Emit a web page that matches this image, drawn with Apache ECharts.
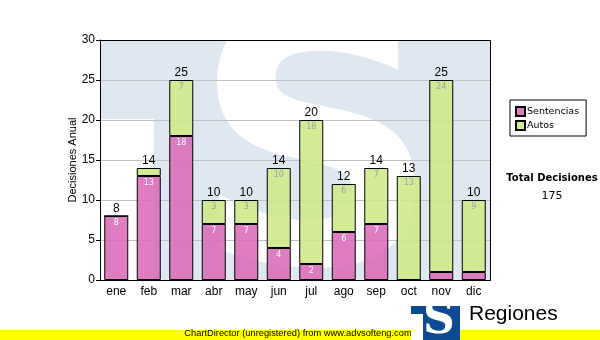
<!DOCTYPE html>
<html>
<head>
<meta charset="utf-8">
<script src="https://cdn.jsdelivr.net/npm/echarts@6/dist/echarts.min.js"></script>
<style>
  html, body { margin: 0; padding: 0; background: #fff; }
  #chart { width: 600px; height: 340px; }
</style>
</head>
<body>
<div id="chart"></div>
<script>
// Monthly decisions, split into judgments (Sentencias) and orders (Autos)
const months = ['ene', 'feb', 'mar', 'abr', 'may', 'jun', 'jul', 'ago', 'sep', 'oct', 'nov', 'dic'];
const sentencias = [8, 13, 18, 7, 7, 4, 2, 6, 7, 0, 1, 1];
const autos = [0, 1, 7, 3, 3, 10, 18, 6, 7, 13, 24, 9];
const yTicks = { min: 0, max: 30, interval: 5 };

const totals = months.map((m, i) => sentencias[i] + autos[i]);
const grandTotal = totals.reduce((a, b) => a + b, 0);

const FONT = '"Liberation Sans", Arial, sans-serif';
const SMALL = '"DejaVu Sans", Verdana, sans-serif';

// plot rectangle in pixels
const PLOT = { left: 100, top: 40, right: 490, bottom: 280 };

// segment labels are hidden on slivers too thin to hold them
const innerLabel = (color) => ({
  show: true,
  position: 'insideTop',
  distance: 3,
  fontFamily: SMALL,
  fontSize: 8,
  color: color,
  formatter: (p) => (p.value >= 2 ? String(p.value) : '')
});

const chart = echarts.init(document.getElementById('chart'), null, { renderer: 'canvas' });

chart.setOption({
  animation: false,
  backgroundColor: '#ffffff',
  grid: { left: PLOT.left, top: PLOT.top, right: 600 - PLOT.right, bottom: 340 - PLOT.bottom },
  legend: {
    orient: 'vertical',
    left: 510,
    top: 100,
    padding: [6, 7, 5, 5],
    itemGap: 3,
    itemWidth: 9,
    itemHeight: 9,
    borderColor: '#000',
    borderWidth: 1,
    icon: 'rect',
    textStyle: { fontFamily: SMALL, fontSize: 9.5, color: '#000', padding: [0, 0, 0, -3] },
    data: ['Sentencias', 'Autos']
  },
  xAxis: {
    type: 'category',
    data: months,
    axisLine: { lineStyle: { color: '#000', width: 1 } },
    axisTick: { alignWithLabel: true, length: 4, lineStyle: { color: '#000' } },
    axisLabel: { fontFamily: FONT, fontSize: 12, color: '#000', margin: 6 }
  },
  yAxis: {
    type: 'value',
    min: yTicks.min,
    max: yTicks.max,
    interval: yTicks.interval,
    name: 'Decisiones Anual',
    nameLocation: 'middle',
    nameGap: 22,
    nameMoveOverlap: false,
    nameTextStyle: { fontFamily: FONT, fontSize: 11, color: '#000' },
    axisLine: { show: true, lineStyle: { color: '#000', width: 1 } },
    axisTick: { show: true, length: 4, lineStyle: { color: '#000' } },
    axisLabel: { fontFamily: FONT, fontSize: 12, color: '#000', margin: 5 },
    splitLine: { lineStyle: { color: '#c0c0c0', width: 1 } }
  },
  series: [
    {
      name: 'Sentencias',
      type: 'bar',
      stack: 'dec',
      barWidth: 24,
      data: sentencias,
      itemStyle: { color: 'rgba(219,106,186,0.88)', borderColor: '#000', borderWidth: 1 },
      label: innerLabel('#ffffff')
    },
    {
      name: 'Autos',
      type: 'bar',
      stack: 'dec',
      barWidth: 24,
      data: autos,
      itemStyle: { color: 'rgba(206,232,134,0.88)', borderColor: '#000', borderWidth: 1 },
      label: innerLabel('#a0a0a0')
    },
    {
      // zero-height cap carrying the monthly total above each stack
      name: 'Total',
      type: 'bar',
      stack: 'dec',
      barWidth: 24,
      data: totals.map(() => 0),
      itemStyle: { color: 'transparent', borderWidth: 0 },
      label: {
        show: true,
        position: 'top',
        distance: 1,
        fontFamily: FONT,
        fontSize: 12,
        color: '#000',
        formatter: (p) => String(totals[p.dataIndex])
      }
    }
  ],
  graphic: [
    // faint logo watermark behind the plot
    { type: 'rect', z: -10, shape: { x: PLOT.left, y: PLOT.top, width: PLOT.right - PLOT.left, height: 79 }, style: { fill: '#dfe8f1' } },
    { type: 'rect', z: -10, shape: { x: 154, y: 118, width: PLOT.right - 154, height: PLOT.bottom - 118 }, style: { fill: '#dfe8f1' } },
    { type: 'text', z: -9, x: 316, y: 172, scaleX: 0.98, style: { text: 'S', font: 'bold 350px "DejaVu Sans", sans-serif', fill: '#ffffff', textAlign: 'center', textVerticalAlign: 'middle' } },
    // plot frame
    { type: 'rect', z: 50, shape: { x: PLOT.left + 0.5, y: PLOT.top + 0.5, width: PLOT.right - PLOT.left, height: PLOT.bottom - PLOT.top }, style: { fill: null, stroke: '#000', lineWidth: 1 } },
    // grand total block
    { type: 'text', x: 552, y: 173, style: { text: 'Total Decisiones', font: 'bold 10px ' + SMALL, fill: '#000', textAlign: 'center' } },
    { type: 'text', x: 552, y: 191, style: { text: String(grandTotal), font: '11px ' + SMALL, fill: '#000', textAlign: 'center' } },
    // footer: logo and banner
    { type: 'text', z: 1, x: 468, y: 330, style: { text: 'Tribunal Supremo de Justicia', font: '10px ' + FONT, fill: '#000' } },
    { type: 'rect', z: 2, shape: { x: 0, y: 330, width: 600, height: 10 }, style: { fill: '#ffff00' } },
    { type: 'text', z: 3, x: 298, y: 329, style: { text: 'ChartDirector (unregistered) from www.advsofteng.com', font: '9.3px ' + FONT, fill: '#000', textAlign: 'center' } },
    { type: 'rect', z: 4, shape: { x: 411, y: 306, width: 49, height: 34 }, style: { fill: '#0c4a91' } },
    { type: 'rect', z: 5, shape: { x: 411, y: 314, width: 12, height: 26 }, style: { fill: '#ffffff' } },
    { type: 'text', z: 5, x: 439, y: 300, style: { text: 'S', font: 'bold 44px "DejaVu Serif", serif', fill: '#ffffff', textAlign: 'center' } },
    { type: 'text', z: 5, x: 469, y: 304, style: { text: 'Regiones', font: '21px ' + FONT, fill: '#000' } }
  ]
});
</script>
</body>
</html>
